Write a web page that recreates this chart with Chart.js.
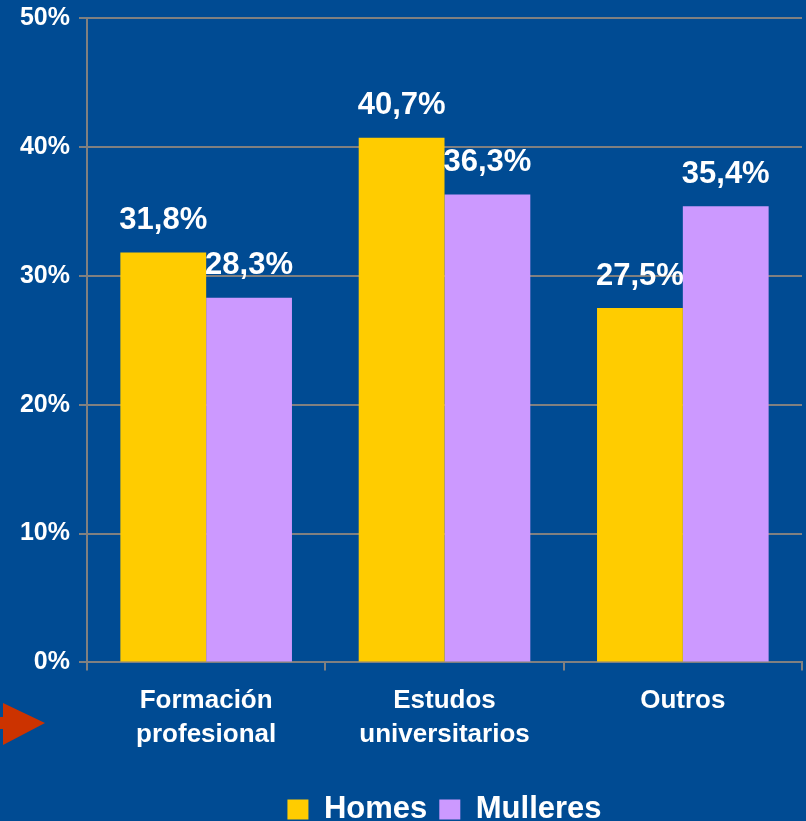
<!DOCTYPE html>
<html>
<head>
<meta charset="utf-8">
<script src="https://cdn.jsdelivr.net/npm/chart.js@4/dist/chart.umd.min.js"></script>
<style>
  html, body { margin: 0; padding: 0; background: #004B93; }
  #wrap { width: 806px; height: 821px; }
</style>
</head>
<body>
<div id="wrap"><canvas id="c" width="806" height="821"></canvas></div>
<script>
const categories = [["Formación", "profesional"], ["Estudos", "universitarios"], ["Outros"]];
const homes = [31.8, 40.7, 27.5];
const mulleres = [28.3, 36.3, 35.4];
const seriesNames = ["Homes", "Mulleres"];
const yTicks = [0, 10, 20, 30, 40, 50];

const BG = '#004B93';
const GRAY = '#808080';
const FONT = "'Liberation Sans', Arial, sans-serif";

const bgPlugin = {
  id: 'bg',
  beforeDraw(chart) {
    const ctx = chart.ctx;
    ctx.save();
    ctx.fillStyle = BG;
    ctx.fillRect(0, 0, chart.width, chart.height);
    ctx.restore();
  }
};

const labelPlugin = {
  id: 'valueLabels',
  afterDatasetsDraw(chart) {
    const ctx = chart.ctx;
    ctx.save();
    ctx.fillStyle = '#FFFFFF';
    ctx.font = "bold 31px " + FONT;
    ctx.textAlign = 'center';
    ctx.textBaseline = 'middle';
    chart.data.datasets.forEach((ds, di) => {
      const meta = chart.getDatasetMeta(di);
      meta.data.forEach((bar, i) => {
        const txt = ds.data[i].toFixed(1).replace('.', ',') + '%';
        ctx.fillText(txt, bar.x, bar.y - 32);
      });
    });
    ctx.restore();
  }
};

const arrowPlugin = {
  id: 'arrow',
  afterDraw(chart) {
    const ctx = chart.ctx;
    ctx.save();
    ctx.fillStyle = '#CC3300';
    ctx.fillRect(0, 717, 6, 12);
    ctx.beginPath();
    ctx.moveTo(3, 703);
    ctx.lineTo(45, 723);
    ctx.lineTo(3, 745);
    ctx.closePath();
    ctx.fill();
    ctx.restore();
  }
};

new Chart(document.getElementById('c'), {
  type: 'bar',
  data: {
    labels: categories,
    datasets: [
      { label: seriesNames[0], data: homes, backgroundColor: '#FFCC00', borderWidth: 0 },
      { label: seriesNames[1], data: mulleres, backgroundColor: '#CC99FF', borderWidth: 0 }
    ]
  },
  options: {
    responsive: false,
    animation: false,
    layout: { padding: { top: 18, right: 4, left: 0, bottom: -14 } },
    datasets: { bar: { categoryPercentage: 0.72, barPercentage: 1.0 } },
    plugins: {
      legend: {
        position: 'bottom',
        fullSize: false,
        labels: {
          color: '#FFFFFF',
          font: { family: FONT, size: 31, weight: 'bold' },
          boxWidth: 21,
          boxHeight: 20,
          padding: 12
        }
      },
      tooltip: { enabled: false }
    },
    scales: {
      x: {
        offset: true,
        afterFit(scale) { scale.height = scale.height + 16; },
        grid: { display: true, drawOnChartArea: false, offset: true, color: GRAY, lineWidth: 2, tickLength: 8 },
        border: { display: true, color: GRAY, width: 2 },
        ticks: {
          color: '#FFFFFF',
          font: { family: FONT, size: 26, weight: 'bold', lineHeight: 1.3 },
          padding: 14,
          maxRotation: 0
        }
      },
      y: {
        min: 0, max: 50,
        afterBuildTicks(scale) { scale.ticks = yTicks.map(v => ({ value: v })); },
        afterFit(scale) { scale.width = 87; scale.paddingTop = 0; scale.paddingBottom = 0; },
        grid: { color: GRAY, lineWidth: 2, tickLength: 8 },
        border: { display: true, color: GRAY, width: 2 },
        ticks: {
          color: '#FFFFFF',
          font: { family: FONT, size: 25, weight: 'bold' },
          padding: 9,
          callback: v => v + '%'
        }
      }
    }
  },
  plugins: [bgPlugin, labelPlugin, arrowPlugin]
});
</script>
</body>
</html>
